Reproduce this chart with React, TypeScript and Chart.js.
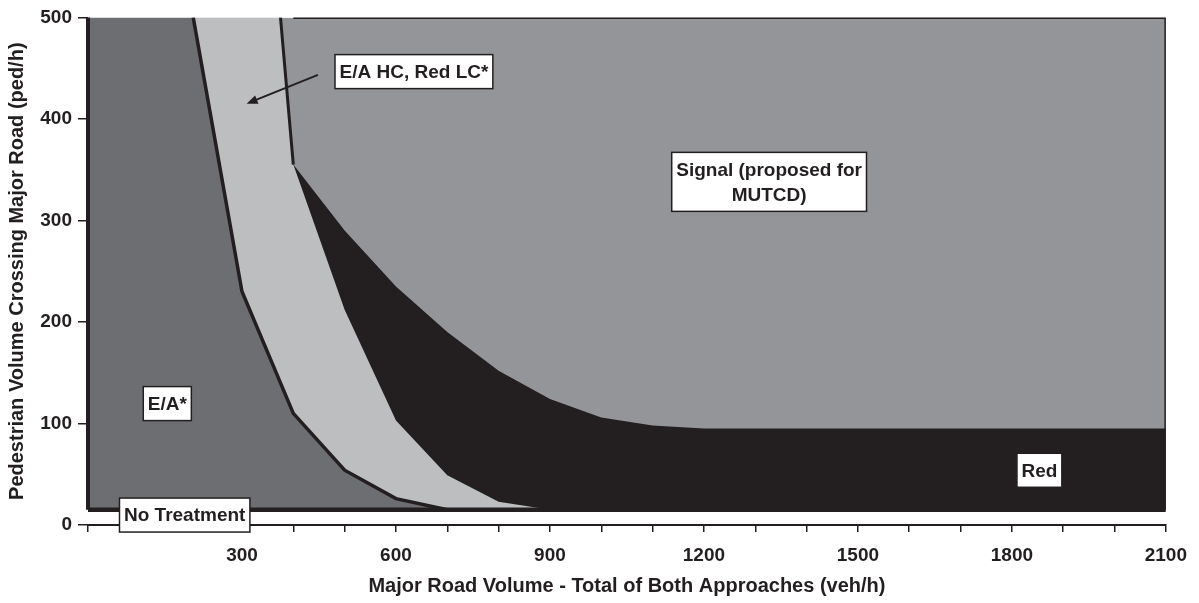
import React, { useEffect, useRef } from 'react';
import { Chart, registerables } from 'chart.js';

Chart.register(...registerables);

const FONT = '"Liberation Sans", Arial, Helvetica, sans-serif';
const INK = '#231f20';
const C_SIGNAL = '#939598';
const C_RED = '#231f20';
const C_HC = '#bcbec0';
const C_EA = '#6d6e71';

// X tick labels shown (every 300 veh/h); minor ticks every 100
const xTickLabels = [300, 600, 900, 1200, 1500, 1800, 2100];
const yTickLabels = [0, 100, 200, 300, 400, 500];

// Region boundaries (x = veh/h, y = ped/h)
const signalX = [0, 2100];
const signalY = [500, 500];

const redTopX = [375, 400, 500, 600, 700, 800, 900, 1000, 1100, 1200, 2100];
const redTopY = [500, 355, 290, 235, 190, 152, 124, 106, 98, 95, 95];

const hcTopX = [0, 375, 400, 500, 600, 700, 800, 900];
const hcTopY = [500, 500, 355, 212, 103, 49, 23, 15];

const eaX = [0, 205, 300, 400, 500, 600, 700];
const eaY = [500, 500, 230, 110, 54, 26, 15];

const eaEdgeX = [0, 0];
const eaEdgeY = [15, 500];

const eaLineX = [205, 300, 400, 500, 600, 700];
const eaLineY = [500, 230, 110, 54, 26, 15];

const splitX = [375, 400];
const splitY = [500, 355];

const signalEdgeX = [400, 2100, 2100];
const signalEdgeY = [500, 500, 15];

const noTreatX = [0, 2100];
const noTreatY = [15, 15];

const FLOOR = 15;

// Region labels (data coordinates)
const labelTexts = [['E/A HC, Red LC*'], ['Signal (proposed for', 'MUTCD)'], ['E/A*'], ['No Treatment'], ['Red']];
const labelX = [635, 1327, 154.5, 188.4, 1853.6];
const labelY = [446.6, 338, 119.6, 9.8, 53.9];

const arrowFrom = { x: 448, y: 443.4 };
const arrowTo = { x: 309, y: 415 };

const pts = (xs: number[], ys: number[]) => xs.map((x, i) => ({ x, y: ys[i] }));

const labelPlugin = {
  id: 'regionLabels',
  afterDatasetsDraw(chart: any) {
    const { ctx, scales } = chart;
    const xs = scales.x;
    const ys = scales.y;
    ctx.save();
    // arrow
    const x1 = xs.getPixelForValue(arrowFrom.x);
    const y1 = ys.getPixelForValue(arrowFrom.y);
    const x2 = xs.getPixelForValue(arrowTo.x);
    const y2 = ys.getPixelForValue(arrowTo.y);
    const ang = Math.atan2(y2 - y1, x2 - x1);
    const head = 11;
    const hw = 4.5;
    ctx.strokeStyle = INK;
    ctx.fillStyle = INK;
    ctx.lineWidth = 2;
    ctx.beginPath();
    ctx.moveTo(x1, y1);
    ctx.lineTo(x2 - Math.cos(ang) * head * 0.8, y2 - Math.sin(ang) * head * 0.8);
    ctx.stroke();
    ctx.beginPath();
    ctx.moveTo(x2, y2);
    ctx.lineTo(x2 - Math.cos(ang) * head - Math.sin(ang) * hw, y2 - Math.sin(ang) * head + Math.cos(ang) * hw);
    ctx.lineTo(x2 - Math.cos(ang) * head + Math.sin(ang) * hw, y2 - Math.sin(ang) * head - Math.cos(ang) * hw);
    ctx.closePath();
    ctx.fill();

    // label boxes
    ctx.font = `bold 19px ${FONT}`;
    ctx.textAlign = 'center';
    ctx.textBaseline = 'middle';
    const lh = 25;
    labelTexts.forEach((lines, i) => {
      const cx = xs.getPixelForValue(labelX[i]);
      const cy = ys.getPixelForValue(labelY[i]);
      const tw = Math.max(...lines.map((l) => ctx.measureText(l).width));
      const w = tw + 9;
      const h = lines.length * lh + 9;
      ctx.fillStyle = '#ffffff';
      ctx.fillRect(cx - w / 2, cy - h / 2, w, h);
      ctx.strokeStyle = INK;
      ctx.lineWidth = 1.5;
      ctx.strokeRect(cx - w / 2, cy - h / 2, w, h);
      ctx.fillStyle = INK;
      lines.forEach((l, j) => {
        ctx.fillText(l, cx, cy - ((lines.length - 1) * lh) / 2 + j * lh + 1);
      });
    });
    ctx.restore();
  },
};

export default function App() {
  const ref = useRef<HTMLCanvasElement | null>(null);

  useEffect(() => {
    if (!ref.current) return;
    const tickFont = { family: FONT, size: 19, weight: 'bold' as const };
    const titleFont = { family: FONT, size: 20, weight: 'bold' as const };
    const chart = new Chart(ref.current, {
      type: 'line',
      data: {
        datasets: [
          {
            label: 'Signal',
            data: pts(signalX, signalY),
            backgroundColor: C_SIGNAL,
            borderWidth: 0,
            fill: { value: FLOOR },
            order: 10,
          },
          {
            label: 'Red',
            data: pts(redTopX, redTopY),
            backgroundColor: C_RED,
            borderWidth: 0,
            fill: { value: FLOOR },
            order: 9,
          },
          {
            label: 'E/A HC, Red LC',
            data: pts(hcTopX, hcTopY),
            backgroundColor: C_HC,
            borderWidth: 0,
            fill: { value: FLOOR },
            order: 8,
          },
          {
            label: 'E/A',
            data: pts(eaX, eaY),
            backgroundColor: C_EA,
            borderWidth: 0,
            fill: { value: FLOOR },
            order: 7,
          },
          {
            label: 'E/A boundary',
            data: pts(eaLineX, eaLineY),
            borderColor: INK,
            borderWidth: 3.5,
            fill: false,
            order: 4,
          },
          {
            label: 'E/A edge',
            data: pts(eaEdgeX, eaEdgeY),
            borderColor: INK,
            borderWidth: 4,
            fill: false,
            clip: 6,
            order: 4,
          },
          {
            label: 'split',
            data: pts(splitX, splitY),
            borderColor: INK,
            borderWidth: 3,
            fill: false,
            order: 3,
          },
          {
            label: 'signal edge',
            data: pts(signalEdgeX, signalEdgeY),
            borderColor: INK,
            borderWidth: 3,
            fill: false,
            order: 2,
          },
          {
            label: 'No Treatment',
            data: pts(noTreatX, noTreatY),
            borderColor: INK,
            borderWidth: 4.5,
            fill: false,
            order: 1,
          },
        ],
      },
      options: {
        animation: false,
        responsive: true,
        maintainAspectRatio: false,
        layout: { padding: { top: 15, right: 33, left: 0, bottom: 0 } },
        elements: { point: { radius: 0, hoverRadius: 0 }, line: { tension: 0 } },
        plugins: { legend: { display: false }, tooltip: { enabled: false } },
        events: [],
        scales: {
          x: {
            type: 'linear',
            min: 0,
            max: 2100,
            afterFit: (s: any) => {
              s.height = 78;
            },
            ticks: {
              stepSize: 100,
              autoSkip: false,
              maxRotation: 0,
              callback: (v: any) => (xTickLabels.includes(Number(v)) ? String(v) : ''),
              font: tickFont,
              color: INK,
              padding: 12,
            },
            grid: {
              display: true,
              drawOnChartArea: false,
              drawTicks: true,
              tickLength: 7,
              color: INK,
              lineWidth: 1.5,
            },
            border: { display: true, color: INK, width: 2 },
            title: {
              display: true,
              text: 'Major Road Volume - Total of Both Approaches (veh/h)',
              font: titleFont,
              color: INK,
              padding: { top: 0, bottom: 5 },
            },
          },
          y: {
            type: 'linear',
            min: 0,
            max: 500,
            afterFit: (s: any) => {
              s.width = 88;
            },
            ticks: {
              stepSize: 100,
              callback: (v: any) => (yTickLabels.includes(Number(v)) ? String(v) : ''),
              font: tickFont,
              color: INK,
              padding: 6,
            },
            grid: {
              display: true,
              drawOnChartArea: false,
              drawTicks: true,
              tickLength: 10,
              color: INK,
              lineWidth: 1.5,
            },
            border: { display: false },
            title: {
              display: true,
              text: 'Pedestrian Volume Crossing Major Road (ped/h)',
              font: titleFont,
              color: INK,
              padding: { top: 5, bottom: 0 },
            },
          },
        },
      },
      plugins: [labelPlugin],
    } as any);
    return () => chart.destroy();
  }, []);

  return (
    <div style={{ position: 'absolute', left: 0, top: 0, width: '1199px', height: '603px', background: '#fff' }}>
      <canvas ref={ref} />
    </div>
  );
}
